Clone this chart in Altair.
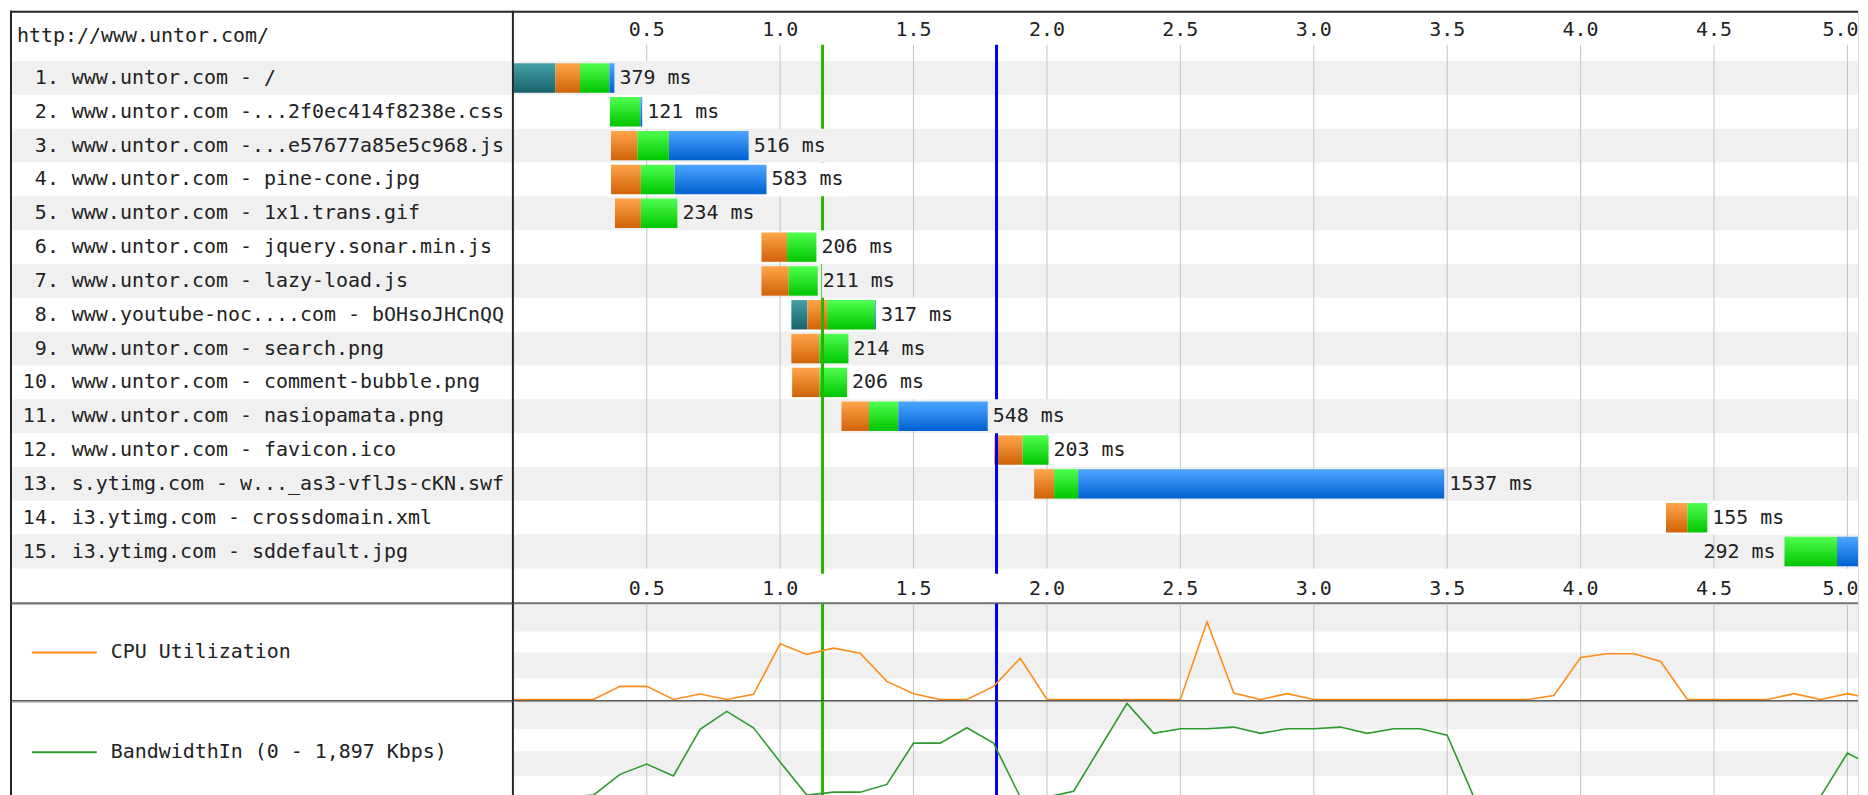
import altair as alt
import pandas as pd

# ---------------- data ----------------
page_url = "http://www.untor.com/"
row_numbers = [1, 2, 3, 4, 5, 6, 7, 8, 9, 10, 11, 12, 13, 14, 15]
row_names = [
    "www.untor.com - /",
    "www.untor.com -...2f0ec414f8238e.css",
    "www.untor.com -...e57677a85e5c968.js",
    "www.untor.com - pine-cone.jpg",
    "www.untor.com - 1x1.trans.gif",
    "www.untor.com - jquery.sonar.min.js",
    "www.untor.com - lazy-load.js",
    "www.youtube-noc....com - bOHsoJHCnQQ",
    "www.untor.com - search.png",
    "www.untor.com - comment-bubble.png",
    "www.untor.com - nasiopamata.png",
    "www.untor.com - favicon.ico",
    "s.ytimg.com - w..._as3-vflJs-cKN.swf",
    "i3.ytimg.com - crossdomain.xml",
    "i3.ytimg.com - sddefault.jpg",
]
start_s = [0.000, 0.362, 0.366, 0.366, 0.381, 0.930, 0.930, 1.042, 1.042, 1.045,
           1.230, 1.803, 1.952, 4.320, 4.764]
dns_ms = [158, 0, 0, 0, 0, 0, 0, 60, 0, 0, 0, 0, 0, 0, 0]
connect_ms = [92, 0, 99, 112, 97, 96, 102, 74, 105, 103, 103, 106, 75, 80, 0]
ttfb_ms = [110, 114, 118, 127, 137, 110, 109, 180, 109, 103, 110, 97, 90, 75, 197]
download_ms = [19, 7, 299, 344, 0, 0, 0, 3, 0, 0, 335, 0, 1372, 0, 95]

event_names = ["Start Render", "Document Complete"]
event_s = [1.159, 1.811]

tick_values = [0.5, 1.0, 1.5, 2.0, 2.5, 3.0, 3.5, 4.0, 4.5, 5.0]
tick_labels = ["0.5", "1.0", "1.5", "2.0", "2.5", "3.0", "3.5", "4.0", "4.5", "5.0"]

sample_s = [0.0, 0.1, 0.2, 0.3, 0.4, 0.5, 0.6, 0.7, 0.8, 0.9,
            1.0, 1.1, 1.2, 1.3, 1.4, 1.5, 1.6, 1.7, 1.8, 1.9,
            2.0, 2.1, 2.2, 2.3, 2.4, 2.5, 2.6, 2.7, 2.8, 2.9,
            3.0, 3.1, 3.2, 3.3, 3.4, 3.5, 3.6, 3.7, 3.8, 3.9,
            4.0, 4.1, 4.2, 4.3, 4.4, 4.5, 4.6, 4.7, 4.8, 4.9,
            5.0, 5.1]
cpu_pct = [0, 0, 0, 0, 13.6, 13.6, 0, 5.6, 0, 5.3,
           58, 47, 53.5, 48.3, 18.8, 6, 0, 0, 13.6, 43,
           0, 0, 0, 0, 0, 0, 81, 6.6, 0, 6,
           0, 0, 0, 0, 0, 0, 0, 0, 0, 4.2,
           43.8, 47.6, 47.6, 39.6, 0, 0, 0, 0, 6, 0,
           6, 0]
bw_kbps = [0, 0, 0, 41, 461, 668, 430, 1370, 1734, 1404,
           711, 41, 101, 101, 258, 1093, 1093, 1404, 1093, 0,
           0, 120, 1010, 1897, 1290, 1383, 1383, 1417, 1290, 1383,
           1383, 1417, 1290, 1383, 1383, 1252, 0, 0, 0, 0,
           0, 0, 0, 0, 0, 0, 0, 0, 0, 20,
           890, 613]
bw_max_kbps = 1897
cpu_label = "CPU Utilization"
bw_label = "BandwidthIn (0 - 1,897 Kbps)"

# ---------------- styles / layout ----------------
FONT = "DejaVu Sans Mono"
FS = 20
TXT = "#222222"
BAND = "#f0f0f0"
GRID = "#c4c4c4"
BORDER = "#262626"
PHASES = ["dns", "connect", "ttfb", "download"]
PHASE_FILL = {
    "dns": ("#43a1a7", "#17626a"),
    "connect": ("#ffa64a", "#d06208"),
    "ttfb": ("#50ff50", "#00c400"),
    "download": ("#4ea6ff", "#0060d0"),
}
EVENT_COLORS = ["#2ab400", "#0000f0"]
CPU_COLOR = "#ff8c1a"
BW_COLOR = "#2e9b2e"

W = 1852          # plot width (whole table) - must fit inside the page body
H1, H2, H3 = 594, 98, 98
K = 267.4         # pixels per second
T0 = 504.4        # pixel of t = 0
DIV = 504         # label column divider
XMIN, XMAX = -T0 / K, (W - T0) / K
ROW_TOP, ROW_H = 50.3, 33.9
BAR_PAD = 0.065
LABEL_HALF = 19   # half width of a tick label in px

xs = alt.Scale(domain=[XMIN, XMAX], nice=False, zero=False)
y1s = alt.Scale(domain=[-ROW_TOP / ROW_H, (H1 - ROW_TOP) / ROW_H], nice=False, zero=False, reverse=True)
cpu_s = alt.Scale(domain=[-2, 100], nice=False, zero=False)
bw_lo = -2 / 98 * bw_max_kbps * 98 / 94
bw_s = alt.Scale(domain=[bw_lo, bw_lo + bw_max_kbps * 98 / 94], nice=False, zero=False)

# ---------------- tables ----------------
req = pd.DataFrame({"row": row_numbers, "name": row_names, "start": start_s,
                    "dns": dns_ms, "connect": connect_ms, "ttfb": ttfb_ms, "download": download_ms})
req["total"] = req[PHASES].sum(axis=1)
req["end"] = req["start"] + req["total"] / 1000.0
req["num"] = req["row"].astype(str) + "."
req["dur"] = req["total"].astype(str) + " ms"
req["yc"] = req["row"] - 0.5
req["ytop"] = req["row"] - 1
req["ybot"] = req["row"]
req["left_label"] = req["end"] > XMAX - 0.35

seg_rows = []
for _, r in req.iterrows():
    t = r["start"]
    for p in PHASES:
        if r[p] > 0:
            seg_rows.append({"row": r["row"], "phase": p, "t0": t, "t1": t + r[p] / 1000.0,
                             "y0": r["row"] - 1 + BAR_PAD, "y1": r["row"] - BAR_PAD})
            t += r[p] / 1000.0
segs = pd.DataFrame(seg_rows)

ticks = pd.DataFrame({"t": tick_values, "lab": tick_labels})
# labels whose centred text would run past the right edge get right-aligned to the edge
ticks["at_edge"] = ticks["t"] > XMAX - LABEL_HALF / K
events = pd.DataFrame({"event": event_names, "t": event_s})
cpu = pd.DataFrame({"t": sample_s, "v": cpu_pct})
bw = pd.DataFrame({"t": sample_s, "v": bw_kbps})
one = pd.DataFrame({"k": [0]})


def grad(top, bottom):
    return alt.LinearGradient(gradient="linear", x1=0, x2=0, y1=0, y2=1,
                              stops=[alt.GradientStop(offset=0, color=top),
                                     alt.GradientStop(offset=1, color=bottom)])


def txt(**kw):
    base = dict(font=FONT, fontSize=FS, color=TXT, baseline="middle")
    base.update(kw)
    return base


def hrule(y, x0, x1, color=BORDER, sw=2):
    return alt.Chart(one).mark_rule(color=color, strokeWidth=sw).encode(
        x=alt.value(x0), x2=alt.value(x1), y=alt.value(y))


def vrule(x, y0, y1, color=BORDER, sw=2):
    return alt.Chart(one).mark_rule(color=color, strokeWidth=sw).encode(
        x=alt.value(x), y=alt.value(y0), y2=alt.value(y1))


def band(y0, y1):
    return alt.Chart(one).mark_rect(color=BAND).encode(
        x=alt.value(DIV), x2=alt.value(W), y=alt.value(y0), y2=alt.value(y1))


def grid(y0, y1):
    return alt.Chart(ticks).mark_rule(color=GRID, strokeWidth=1).encode(
        x=alt.X("t:Q", scale=xs, axis=None), y=alt.value(y0), y2=alt.value(y1))


def event_rules(y0, y1):
    return alt.Chart(events).mark_rule(strokeWidth=3).encode(
        x=alt.X("t:Q", scale=xs, axis=None), y=alt.value(y0), y2=alt.value(y1),
        color=alt.Color("event:N", scale=alt.Scale(domain=event_names, range=EVENT_COLORS), legend=None))


def tick_text(ypx):
    inner = alt.Chart(ticks).transform_filter("!datum.at_edge").mark_text(**txt(align="center")).encode(
        x=alt.X("t:Q", scale=xs, axis=None), y=alt.value(ypx), text="lab:N")
    edge = alt.Chart(ticks).transform_filter("datum.at_edge").mark_text(
        **txt(align="right", dx=LABEL_HALF - 8)).encode(
        x=alt.X("t:Q", scale=xs, axis=None), y=alt.value(ypx), text="lab:N")
    return [inner, edge]


# ---------------- panel 1: waterfall ----------------
row_bands = alt.Chart(req).transform_filter("datum.row % 2 == 1").mark_rect(color=BAND).encode(
    x=alt.value(0), x2=alt.value(W),
    y=alt.Y("ytop:Q", scale=y1s, axis=None), y2="ybot:Q")

bar_layers = []
for p in PHASES:
    bar_layers.append(
        alt.Chart(segs[segs["phase"] == p]).mark_rect(fill=grad(*PHASE_FILL[p]), clip=True).encode(
            x=alt.X("t0:Q", scale=xs, axis=None), x2="t1:Q",
            y=alt.Y("y0:Q", scale=y1s, axis=None), y2="y1:Q"))

label_bg = alt.Chart(req).transform_filter("!datum.left_label").mark_rect(xOffset=4, x2Offset=80).encode(
    x=alt.X("end:Q", scale=xs, axis=None), x2="end:Q",
    y=alt.Y("ytop:Q", scale=y1s, axis=None), y2="ybot:Q",
    color=alt.condition(alt.datum.row % 2 == 1, alt.value(BAND), alt.value("white")))

dur_right = alt.Chart(req).transform_filter("!datum.left_label").mark_text(**txt(align="left", dx=5)).encode(
    x=alt.X("end:Q", scale=xs, axis=None), y=alt.Y("yc:Q", scale=y1s, axis=None), text="dur:N")
dur_left = alt.Chart(req).transform_filter("datum.left_label").mark_text(**txt(align="right", dx=-9)).encode(
    x=alt.X("start:Q", scale=xs, axis=None), y=alt.Y("yc:Q", scale=y1s, axis=None), text="dur:N")

num_text = alt.Chart(req).mark_text(**txt(align="right")).encode(
    x=alt.value(49), y=alt.Y("yc:Q", scale=y1s, axis=None), text="num:N")
name_text = alt.Chart(req).mark_text(**txt(align="left")).encode(
    x=alt.value(62), y=alt.Y("yc:Q", scale=y1s, axis=None), text="name:N")
header = alt.Chart(pd.DataFrame({"u": [page_url]})).mark_text(**txt(align="left")).encode(
    x=alt.value(7), y=alt.value(25), text="u:N")

panel1 = alt.layer(
    row_bands, grid(34, 559), *bar_layers, event_rules(34, 564), label_bg,
    dur_right, dur_left, num_text, name_text, header, *tick_text(19), *tick_text(579),
    hrule(1, 0, W), vrule(1, 0, H1), vrule(DIV, 0, H1), hrule(H1, 0, W),
).properties(width=W, height=H1)

# ---------------- panel 2: CPU ----------------
cpu_line = alt.Chart(cpu).mark_line(color=CPU_COLOR, strokeWidth=1.6, clip=True).encode(
    x=alt.X("t:Q", scale=xs, axis=None), y=alt.Y("v:Q", scale=cpu_s, axis=None))
cpu_leg = alt.Chart(one).mark_rule(color=CPU_COLOR, strokeWidth=2).encode(
    x=alt.value(22), x2=alt.value(87), y=alt.value(49))
cpu_txt = alt.Chart(pd.DataFrame({"s": [cpu_label]})).mark_text(**txt(align="left")).encode(
    x=alt.value(101), y=alt.value(49), text="s:N")

panel2 = alt.layer(
    band(1, 28), band(49, 75), grid(0, H2), event_rules(0, H2), cpu_line, cpu_leg, cpu_txt,
    vrule(1, 0, H2), vrule(DIV, 0, H2), hrule(H2, 0, W),
).properties(width=W, height=H2)

# ---------------- panel 3: bandwidth ----------------
bw_line = alt.Chart(bw).mark_line(color=BW_COLOR, strokeWidth=1.6, clip=True).encode(
    x=alt.X("t:Q", scale=xs, axis=None), y=alt.Y("v:Q", scale=bw_s, axis=None))
bw_leg = alt.Chart(one).mark_rule(color=BW_COLOR, strokeWidth=2).encode(
    x=alt.value(22), x2=alt.value(87), y=alt.value(51))
bw_txt = alt.Chart(pd.DataFrame({"s": [bw_label]})).mark_text(**txt(align="left")).encode(
    x=alt.value(101), y=alt.value(51), text="s:N")

panel3 = alt.layer(
    band(1, 28), band(50, 75), grid(0, H3), event_rules(0, H3), bw_line, bw_leg, bw_txt,
    vrule(1, 0, H3), vrule(DIV, 0, H3),
).properties(width=W, height=H3)

chart = alt.vconcat(panel1, panel2, panel3, spacing=0, bounds="flush").properties(
    padding=0
).configure_view(stroke=None).configure(background="white")

chart.save("out.html", embed_options={"renderer": "svg", "actions": False})
